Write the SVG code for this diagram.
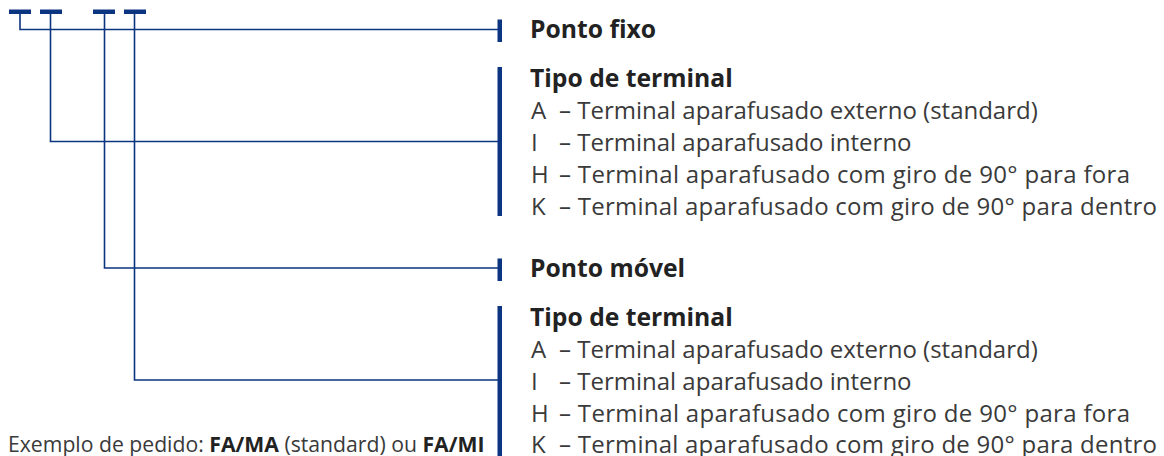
<svg xmlns="http://www.w3.org/2000/svg" width="1164" height="456" viewBox="0 0 1164 456">
<style>
.bar{fill:#0b3580}
.ln{fill:none;stroke:#0b3580;stroke-width:1.6}
.t{font-family:"Open Sans","Noto Sans",sans-serif;font-size:24px;fill:#3a3a3a;font-weight:400}
.h{font-family:"Open Sans","Noto Sans",sans-serif;font-size:24.7px;fill:#222;font-weight:700}
.s{font-family:"Open Sans","Noto Sans",sans-serif;font-size:21.2px;fill:#3a3a3a;font-weight:400}
.s tspan.b{font-weight:700;fill:#222}
</style>
<g id="code">
<rect class="bar" x="9" y="9.5" width="22" height="4.5"/>
<rect class="bar" x="40" y="9.5" width="22" height="4.5"/>
<rect class="bar" x="93" y="9.5" width="22" height="4.5"/>
<rect class="bar" x="124" y="9.5" width="22" height="4.5"/>
</g>
<g id="connectors">
<path class="ln" d="M20,14 V29.5 H498"/>
<path class="ln" d="M50.5,14 V141.5 H498"/>
<path class="ln" d="M104.5,14 V268 H498"/>
<path class="ln" d="M134.5,14 V380 H498"/>
</g>
<g id="ponto-fixo">
<rect class="bar" x="497.5" y="19.5" width="4.5" height="22.5"/>
<text class="h" x="530" y="38">Ponto fixo</text>
</g>
<g id="tipo-terminal-1">
<rect class="bar" x="497.5" y="67" width="4.5" height="149"/>
<text class="h" x="530" y="86.5">Tipo de terminal</text>
<text class="t" x="531" y="119">A</text><text class="t" x="559" y="119">– Terminal aparafusado externo (standard)</text>
<text class="t" x="531" y="151">I</text><text class="t" x="559" y="151">– Terminal aparafusado interno</text>
<text class="t" x="531" y="183">H</text><text class="t" x="559" y="183" textLength="571" lengthAdjust="spacing">– Terminal aparafusado com giro de 90° para fora</text>
<text class="t" x="531" y="215">K</text><text class="t" x="559" y="215" textLength="598" lengthAdjust="spacing">– Terminal aparafusado com giro de 90° para dentro</text>
</g>
<g id="ponto-movel">
<rect class="bar" x="497.5" y="258.5" width="4.5" height="22.5"/>
<text class="h" x="530" y="277">Ponto móvel</text>
</g>
<g id="tipo-terminal-2">
<rect class="bar" x="497.5" y="306" width="4.5" height="150"/>
<text class="h" x="530" y="325.5">Tipo de terminal</text>
<text class="t" x="531" y="358">A</text><text class="t" x="559" y="358">– Terminal aparafusado externo (standard)</text>
<text class="t" x="531" y="390">I</text><text class="t" x="559" y="390">– Terminal aparafusado interno</text>
<text class="t" x="531" y="422">H</text><text class="t" x="559" y="422" textLength="571" lengthAdjust="spacing">– Terminal aparafusado com giro de 90° para fora</text>
<text class="t" x="531" y="453">K</text><text class="t" x="559" y="453" textLength="598" lengthAdjust="spacing">– Terminal aparafusado com giro de 90° para dentro</text>
</g>
<g id="exemplo">
<text class="s" x="8" y="452">Exemplo de pedido: <tspan class="b">FA/MA</tspan> (standard) ou <tspan class="b">FA/MI</tspan></text>
</g>
</svg>
